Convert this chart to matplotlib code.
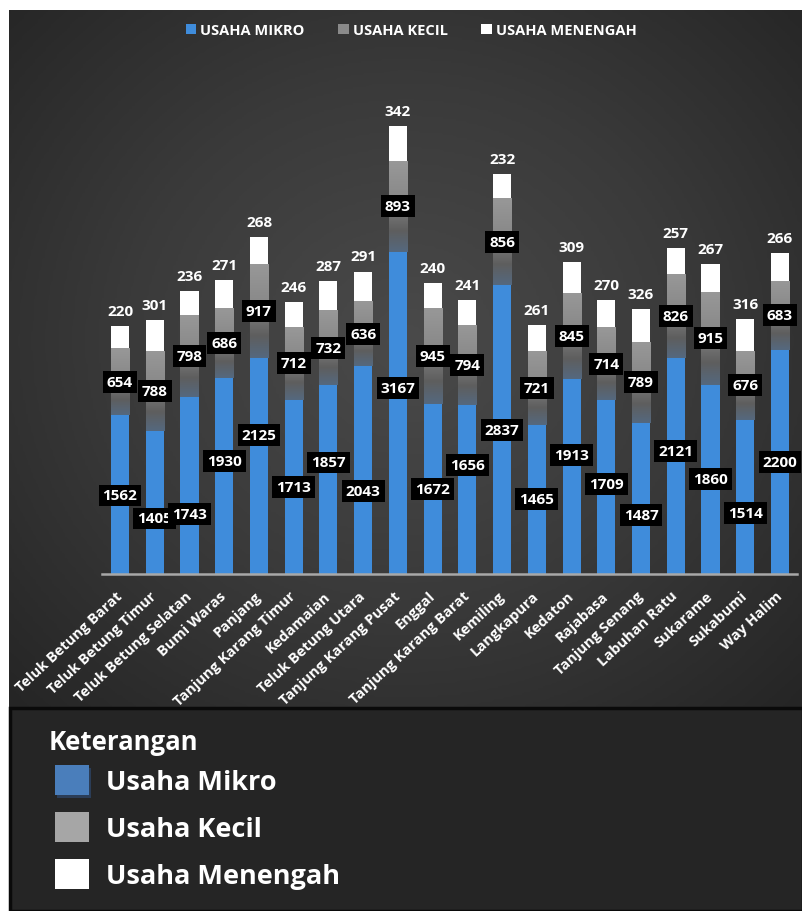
import numpy as np
import matplotlib.pyplot as plt
from matplotlib.patches import Rectangle, Patch
from matplotlib.colors import LinearSegmentedColormap

kecamatan = ['Teluk Betung Barat', 'Teluk Betung Timur', 'Teluk Betung Selatan', 'Bumi Waras',
             'Panjang', 'Tanjung Karang Timur', 'Kedamaian', 'Teluk Betung Utara',
             'Tanjung Karang Pusat', 'Enggal', 'Tanjung Karang Barat', 'Kemiling', 'Langkapura',
             'Kedaton', 'Rajabasa', 'Tanjung Senang', 'Labuhan Ratu', 'Sukarame', 'Sukabumi',
             'Way Halim']
usaha_mikro = [1562, 1405, 1743, 1930, 2125, 1713, 1857, 2043, 3167, 1672,
               1656, 2837, 1465, 1913, 1709, 1487, 2121, 1860, 1514, 2200]
usaha_kecil = [654, 788, 798, 686, 917, 712, 732, 636, 893, 945,
               794, 856, 721, 845, 714, 789, 826, 915, 676, 683]
usaha_menengah = [220, 301, 236, 271, 268, 246, 287, 291, 342, 240,
                  241, 232, 261, 309, 270, 326, 257, 267, 316, 266]
legend_top = ['USAHA MIKRO', 'USAHA KECIL', 'USAHA MENENGAH']
legend_bottom = ['Usaha Mikro', 'Usaha Kecil', 'Usaha Menengah']

# small vertical nudges (px, down positive) of the micro labels, as in the picture
mikro_label_shift = [1, 16, 29, -15, -31, 0, -17, 21, -25, 0, -25, 0, 0, -22, -3, 17, -15, 0, 16, 0]

W, H = 803, 912
FONT = 'Open Sans'
BLUE = '#3f8cdb'
GRAY = '#7d7d7d'

fig = plt.figure(figsize=(W / 100, H / 100), dpi=100)
fig.patch.set_facecolor('white')


def fx(px):
    return px / W


def fy(py):
    return 1 - py / H


# dark gradient background of the chart
bg = fig.add_axes([fx(9), fy(708), fx(W - 9), (708 - 11) / H])
yy, xx = np.mgrid[-1:1:300j, -1:1:300j]
r = np.sqrt((xx / 1.05) ** 2 + ((yy + 0.05) / 1.1) ** 2)
bg_cmap = LinearSegmentedColormap.from_list('bg', ['#4a4a4a', '#3a3a3a', '#252525'])
bg.imshow(r, cmap=bg_cmap, vmin=0, vmax=1.35, aspect='auto')
bg.axis('off')

# bottom "Keterangan" box
fig.add_artist(Rectangle((fx(10), 0), fx(W - 10), (H - 709) / H, transform=fig.transFigure,
                         facecolor='#252525', edgecolor='#0a0a0a', lw=2.5))

ax = fig.add_axes([fx(102), fy(575), fx(695), 515 / H])
ax.patch.set_alpha(0)

x = np.arange(len(kecamatan))
mikro = np.array(usaha_mikro)
kecil = np.array(usaha_kecil)
menengah = np.array(usaha_menengah)
bw = 0.52

ax.bar(x, mikro, width=bw, color=BLUE, zorder=2)
bars_k = ax.bar(x, kecil, bottom=mikro, width=bw, color=GRAY, zorder=2)
ax.bar(x, menengah, bottom=mikro + kecil, width=bw, color='white', zorder=2)

# soft gradient on the grey segments
gray_cmap = LinearSegmentedColormap.from_list('g', ['#4f6f93', '#5e5e5e', '#8a8a8a', '#989898'])
grad = np.linspace(0, 1, 100).reshape(-1, 1)
for xi, b, h, patch in zip(x, mikro, kecil, bars_k):
    im = ax.imshow(grad, cmap=gray_cmap, origin='lower', aspect='auto',
                   extent=(xi - bw / 2, xi + bw / 2, b - h * 0.15, b + h), zorder=2.5)
    im.set_clip_path(patch)

box = dict(boxstyle='square,pad=0.26', fc='black', ec='none')
lab = dict(ha='center', va='center', color='white', fontsize=11, fontweight='bold',
           family=FONT, textcoords='offset points', zorder=5)
for xi, m, k, t, s in zip(x, mikro, kecil, menengah, mikro_label_shift):
    ax.annotate(str(m), (xi, m / 2), xytext=(0, -s * 0.72), bbox=box, **lab)
    ax.annotate(str(k), (xi, m + k / 2), xytext=(0, 0), bbox=box, **lab)
    ax.annotate(str(t), (xi, m + k + t), xytext=(0, 11), **lab)

ax.set_xlim(-0.52, len(x) - 0.51)
ax.set_ylim(0, 5059)
for sp in ['left', 'right', 'top']:
    ax.spines[sp].set_visible(False)
ax.spines['bottom'].set_color('#a8a8a8')
ax.spines['bottom'].set_linewidth(1.8)
ax.set_yticks([])
ax.set_xticks(x, kecamatan, rotation=43, ha='right', va='center', rotation_mode='anchor',
              color='white', fontsize=10.5, fontweight='bold', family=FONT)
ax.tick_params(axis='x', length=0, pad=14)

# legend at the top
top_handles = [Patch(facecolor=c, edgecolor='none') for c in [BLUE, '#8a8a8a', 'white']]
fig.legend(top_handles, legend_top, loc='center', bbox_to_anchor=(fx(411), fy(31)), ncol=3,
           frameon=False, labelcolor='white', handlelength=0.75, handleheight=0.75,
           handletextpad=0.25, columnspacing=2.3,
           prop=dict(family=FONT, weight='bold', size=10.5))

# "Keterangan" legend at the bottom
fig.text(fx(49), fy(742), 'Keterangan', color='white', fontsize=18.5, fontweight='bold',
         family=FONT, va='center', ha='left')
for i, (name, c) in enumerate(zip(legend_bottom, ['#4a7ebb', '#a6a6a6', 'white'])):
    cy = 781 + i * 47
    if i == 0:
        fig.add_artist(Rectangle((fx(57), fy(cy + 18)), fx(34), 30 / H, transform=fig.transFigure,
                                 facecolor='#2b3d57', edgecolor='none'))
    fig.add_artist(Rectangle((fx(55), fy(cy + 15)), fx(34), 30 / H, transform=fig.transFigure,
                             facecolor=c, edgecolor='none'))
    fig.text(fx(106), fy(cy + 2), name, color='white', fontsize=19.5, fontweight='bold',
             family=FONT, va='center', ha='left')

fig.savefig('out.png', dpi=100)
